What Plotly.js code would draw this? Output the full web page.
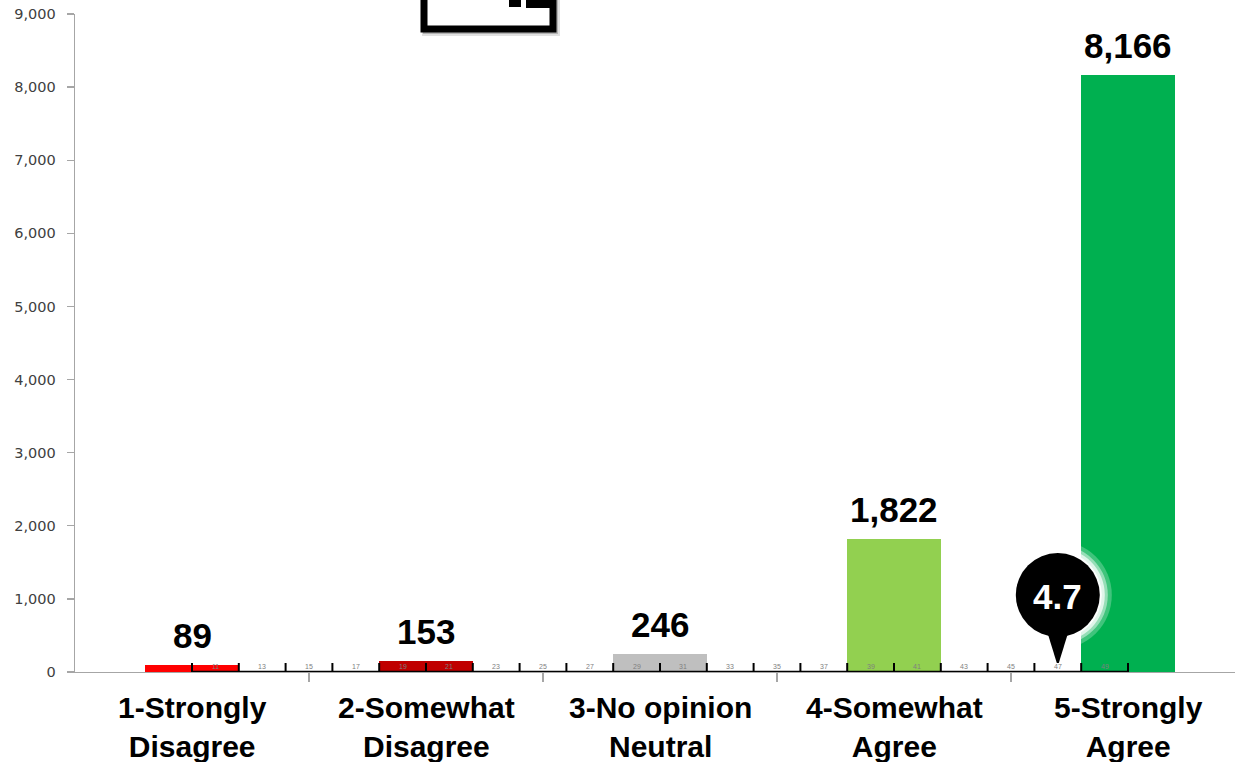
<!DOCTYPE html>
<html>
<head>
<meta charset="utf-8">
<script src="https://cdn.plot.ly/plotly-3.0.1.min.js"></script>
<style>html,body{margin:0;padding:0;background:#fff;}#chart{width:1235px;height:762px;}</style>
</head>
<body>
<div id="chart"></div>
<script>
// ---- data ----
const categories = ["1-Strongly<br>Disagree", "2-Somewhat<br>Disagree", "3-No opinion<br>Neutral", "4-Somewhat<br>Agree", "5-Strongly<br>Agree"];
const counts = [89, 153, 246, 1822, 8166];
const barColors = ["#FF0000", "#C00000", "#BFBFBF", "#92D050", "#00B050"];
const rulerLabels = ["11","13","15","17","19","21","23","25","27","29","31","33","35","37","39","41","43","45","47","49"];
const averageScore = 4.7;
const yTickVals = [0,1000,2000,3000,4000,5000,6000,7000,8000,9000];

// ---- layout constants ----
const W = 1235, H = 762;
const M = {l: 75, r: 0, t: 14, b: 90};
const xMin = 0.5, xMax = 0.5 + (W - M.l) / 234;
const font = "Arial, 'Liberation Sans', sans-serif";
const xPos = categories.map((c, i) => i + 1);

const fmt = v => v.toLocaleString("en-US");

const bars = {
  type: "bar", x: xPos, y: counts, width: 0.4,
  marker: {color: barColors, line: {width: 0}},
  hoverinfo: "skip", showlegend: false
};

const annotations = [];
counts.forEach((v, i) => {
  annotations.push({x: xPos[i], y: v, xref: "x", yref: "y", text: "<b>" + fmt(v) + "</b>", showarrow: false,
    yanchor: "bottom", yshift: 8, font: {family: font, size: 35, color: "#000"}});
  annotations.push({x: xPos[i], y: 0, xref: "x", yref: "paper", text: "<b>" + categories[i] + "</b>", showarrow: false,
    yanchor: "top", yshift: -17, font: {family: font, size: 30, color: "#000"}});
});

// ruler labels
const rulerStart = 1, rulerEnd = 5;
rulerLabels.forEach(l => {
  annotations.push({x: Number(l) / 10, y: 0, xref: "x", yref: "y", text: l, showarrow: false,
    yanchor: "bottom", yshift: 0, font: {family: font, size: 7, color: "#7F7F7F"}});
});
// pin text
annotations.push({x: averageScore, y: 0, xref: "x", yref: "y", text: "<b>" + averageScore.toFixed(1) + "</b>",
  showarrow: false, yanchor: "middle", yshift: 76, font: {family: font, size: 35, color: "#fff"}});

const shapes = [];
// ruler line
shapes.push({type: "line", xref: "x", yref: "y", x0: rulerStart, x1: rulerEnd, y0: 0, y1: 0,
  line: {color: "#000", width: 2.5}});
// ruler ticks
const nSeg = rulerLabels.length;
for (let k = 0; k <= nSeg; k++) {
  const xv = rulerStart + k * (rulerEnd - rulerStart) / nSeg;
  shapes.push({type: "line", xref: "x", yref: "y", ysizemode: "pixel", yanchor: 0, x0: xv, x1: xv, y0: 0, y1: 9,
    line: {color: "#000", width: 2}});
}

// pin glow + body
const glow = [[54, 0.25], [50, 0.45], [47, 0.7], [44, 0.9]];
glow.forEach(g => {
  shapes.push({type: "circle", xref: "x", yref: "y", xsizemode: "pixel", ysizemode: "pixel", xanchor: averageScore, yanchor: 0,
    x0: -g[0], x1: g[0], y0: 77 - g[0], y1: 77 + g[0], fillcolor: "rgba(255,255,255," + g[1] + ")", line: {width: 0}, layer: "above"});
});
shapes.push({type: "circle", xref: "x", yref: "y", xsizemode: "pixel", ysizemode: "pixel", xanchor: averageScore, yanchor: 0,
  x0: -42, x1: 42, y0: 35, y1: 119, fillcolor: "#000", line: {width: 0}, layer: "above"});
shapes.push({type: "path", xref: "x", yref: "y", xsizemode: "pixel", ysizemode: "pixel", xanchor: averageScore, yanchor: 0,
  path: "M -13 48 L -1 9 L 1 9 L 13 48 Z", fillcolor: "#000", line: {width: 0}, layer: "above"});

// decorative box at top (partially cut off)
const px = p => xMin + (p - M.l) / 234;            // pixel x -> data x
const py = p => (H - M.b - p) / (H - M.b - M.t);    // pixel y -> paper y
shapes.push({type: "rect", xref: "x", yref: "paper", x0: px(422), x1: px(560), y0: py(36), y1: py(-20),
  fillcolor: "rgba(0,0,0,0.12)", line: {width: 0}});
shapes.push({type: "rect", xref: "x", yref: "paper", x0: px(423), x1: px(558), y0: py(34), y1: py(-20),
  fillcolor: "rgba(0,0,0,0.2)", line: {width: 0}});
shapes.push({type: "rect", xref: "x", yref: "paper", x0: px(424), x1: px(553), y0: py(29), y1: py(-20),
  fillcolor: "#fff", line: {color: "#000", width: 7}});
shapes.push({type: "rect", xref: "x", yref: "paper", x0: px(509), x1: px(521), y0: py(7), y1: py(-2),
  fillcolor: "#000", line: {width: 0}});
shapes.push({type: "rect", xref: "x", yref: "paper", x0: px(526), x1: px(531), y0: py(8), y1: py(-2),
  fillcolor: "#000", line: {width: 0}});
shapes.push({type: "rect", xref: "x", yref: "paper", x0: px(531), x1: px(553), y0: py(8), y1: py(-2),
  fillcolor: "#000", line: {width: 0}});

const layout = {
  width: W, height: H,
  margin: M,
  paper_bgcolor: "#fff", plot_bgcolor: "#fff",
  bargap: 0,
  xaxis: {
    range: [xMin, xMax], showgrid: false, zeroline: false,
    showline: true, linecolor: "#A6A6A6", linewidth: 1.3,
    tickvals: [], showticklabels: false, ticks: "",
    minor: {tickvals: [1.5, 2.5, 3.5, 4.5], ticks: "outside", ticklen: 9, tickcolor: "#A6A6A6", tickwidth: 1.3}
  },
  yaxis: {
    range: [0, 9000], showgrid: false, zeroline: false,
    showline: true, linecolor: "#A6A6A6", linewidth: 1.3,
    ticks: "outside", ticklen: 7, tickcolor: "#A6A6A6", tickwidth: 1.3,
    ticklabelstandoff: 8,
    tickvals: yTickVals, ticktext: yTickVals.map(fmt),
    tickfont: {family: "'DejaVu Sans', Verdana, sans-serif", size: 14.5, color: "#404040"}
  },
  annotations: annotations,
  shapes: shapes,
  showlegend: false
};

Plotly.newPlot("chart", [bars], layout, {displayModeBar: false, staticPlot: true});
</script>
</body>
</html>
